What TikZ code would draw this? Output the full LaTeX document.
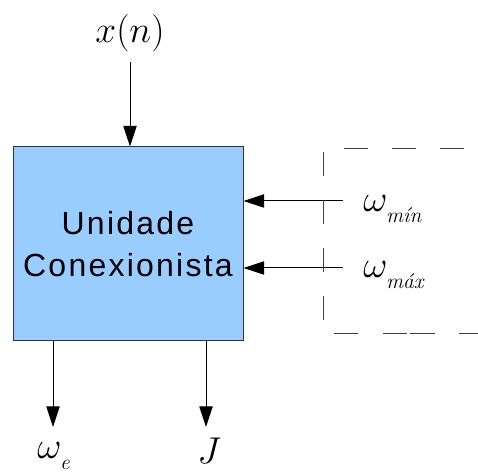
\RequirePackage{fix-cm}
\documentclass[tikz,border=0pt]{standalone}
\usepackage{fontspec}
\setsansfont{Liberation Sans}
\newfontfamily\unitfont[LetterSpace=7]{Liberation Sans}
\usetikzlibrary{arrows.meta, positioning}
\definecolor{boxblue}{RGB}{153,204,255}
\newcommand{\subtxt}[1]{\raisebox{-4pt}{\fontsize{16}{18}\selectfont\itshape #1}}

\begin{document}
\begin{tikzpicture}[
    x=0.75pt, y=-0.75pt,
    unit/.style={rectangle, draw=black!80, line width=0.75pt, fill=boxblue,
        minimum width=172.5pt, minimum height=145.5pt, align=center,
        font=\unitfont\fontsize{24}{31.5}\selectfont},
    sig/.style={font=\fontsize{28}{34}\selectfont, inner sep=0pt},
    flow/.style={-{Triangle[length=15.5pt, width=10pt]}, line width=0.75pt},
    frame/.style={draw=black!75, line width=0.75pt}
]
    \useasboundingbox (0,0) rectangle (478,473);

    % bloco principal
    \node[unit] (unidade) at (128,244) {Unidade\\Conexionista};

    % entrada x(n)
    \node[sig, anchor=base] (xn) at (130,43) {$x(n)$};
    \coordinate (xfrom) at (130,62);
    \draw[flow] (xfrom) -- (xfrom |- unidade.north);

    % limites
    \node[sig, anchor=base west] (wmin) at (363,212) {$\omega_{\subtxt{mín}}$};
    \node[sig, anchor=base west] (wmax) at (363,278) {$\omega_{\subtxt{máx}}$};
    \coordinate (minfrom) at (343,201);
    \coordinate (maxfrom) at (343,268);
    \draw[flow] (minfrom) -- (minfrom -| unidade.east);
    \draw[flow] (maxfrom) -- (maxfrom -| unidade.east);

    % moldura tracejada
    \draw[frame, dash pattern=on 18pt off 18pt] (323,152) -- (323,334);
    \draw[frame, dash pattern=on 18pt off 18pt] (344,149) -- (478,149);
    \draw[frame, dash pattern=on 18pt off 18.75pt on 18pt off 2.25pt on 18.75pt off 18pt]
        (334,334) -- (478,334);

    % saidas
    \coordinate (weto) at (53,427);
    \coordinate (jto) at (206,427);
    \draw[flow] (weto |- unidade.south) -- (weto);
    \draw[flow] (jto |- unidade.south) -- (jto);
    \node[sig, anchor=base west] (we) at (37,459) {$\omega_{\subtxt{e}}$};
    \node[sig, anchor=base west] (jout) at (197,464) {$J$};
\end{tikzpicture}
\end{document}
